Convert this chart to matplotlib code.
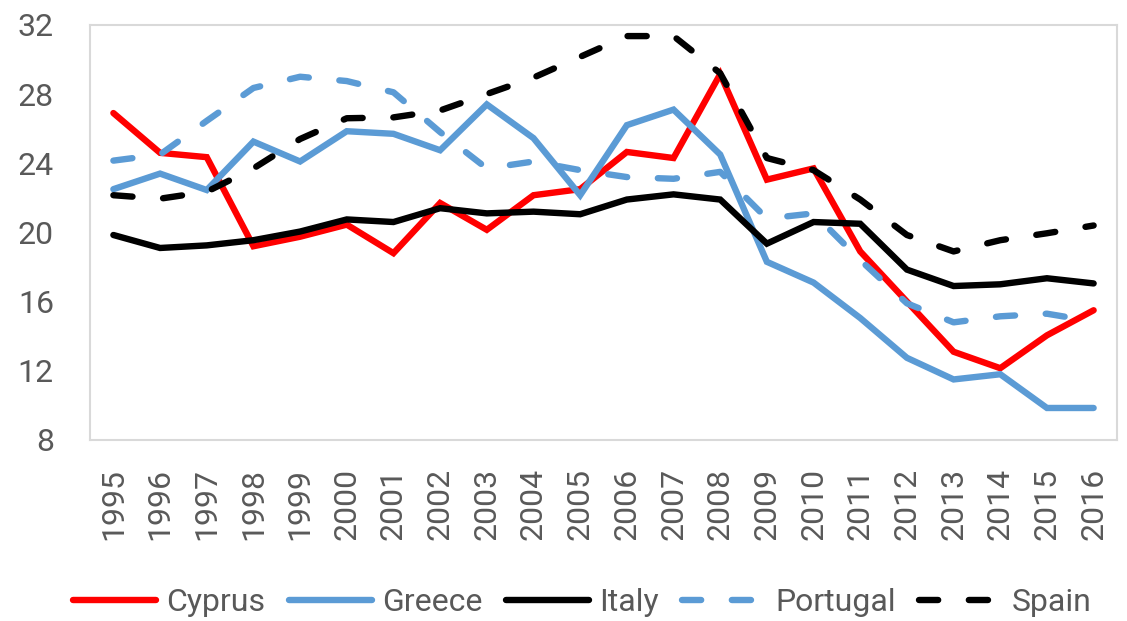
import matplotlib
matplotlib.use("Agg")
import matplotlib.pyplot as plt

years = [str(y) for y in range(1995, 2017)]
cyprus = [26.9, 24.6, 24.35, 19.2, 19.75, 20.45, 18.8, 21.7, 20.15, 22.15, 22.5, 24.65,
          24.3, 29.15, 23.05, 23.7, 18.9, 16.0, 13.1, 12.15, 14.05, 15.5]
greece = [22.5, 23.4, 22.45, 25.25, 24.1, 25.85, 25.7, 24.75, 27.4, 25.45, 22.15, 26.2,
          27.1, 24.5, 18.3, 17.1, 15.05, 12.75, 11.5, 11.8, 9.85, 9.85]
italy = [19.85, 19.1, 19.25, 19.55, 20.05, 20.75, 20.6, 21.4, 21.1, 21.2, 21.05, 21.9,
         22.2, 21.9, 19.35, 20.6, 20.5, 17.85, 16.9, 17.0, 17.35, 17.05]
portugal = [24.15, 24.5, 26.45, 28.35, 29.0, 28.75, 28.1, 25.8, 23.7, 24.1, 23.6, 23.2,
            23.1, 23.5, 20.8, 21.1, 18.4, 15.9, 14.8, 15.15, 15.3, 14.85]
spain = [22.15, 21.95, 22.35, 23.7, 25.4, 26.6, 26.65, 27.05, 28.0, 28.95, 30.15, 31.35,
         31.35, 29.2, 24.3, 23.6, 21.9, 19.85, 18.9, 19.55, 19.95, 20.4]
yticks = [8, 12, 16, 20, 24, 28, 32]

plt.rcParams['font.family'] = ['Roboto', 'DejaVu Sans']

fig = plt.figure(figsize=(11.27, 6.21), dpi=100)
ax = fig.add_axes([0.0799, 0.2915, 0.9112, 0.6685])

x = list(range(len(years)))
lw = 4.6
blue = '#5b9bd5'
dash = (3.0, 4.8)
ax.plot(x, cyprus, color='#ff0000', lw=lw, label='Cyprus', solid_capstyle='round', solid_joinstyle='miter')
ax.plot(x, greece, color=blue, lw=lw, label='Greece', solid_capstyle='round', solid_joinstyle='miter')
ax.plot(x, italy, color='#000000', lw=lw, label='Italy', solid_capstyle='round', solid_joinstyle='miter')
ax.plot(x, portugal, color=blue, lw=lw, label='Portugal', dashes=dash, dash_capstyle='round')
ax.plot(x, spain, color='#000000', lw=lw, label='Spain', dashes=dash, dash_capstyle='round')

ax.set_xlim(-0.5, len(years) - 0.5)
ax.set_ylim(8, 32)
ax.set_yticks(yticks)
ax.set_yticklabels([str(v) for v in yticks])
ax.set_xticks(x)
ax.set_xticklabels(years, rotation=90)
ax.tick_params(axis='both', length=0, labelsize=23, colors='#595959')
ax.tick_params(axis='y', pad=26)
ax.tick_params(axis='x', pad=20)
for s in ax.spines.values():
    s.set_color('#d9d9d9')
    s.set_linewidth(1.5)

leg = fig.legend(loc='center', bbox_to_anchor=(0.517, 0.029), ncol=5, frameon=False,
                 fontsize=23, handlelength=2.6, handletextpad=0.3, columnspacing=0.75,
                 borderpad=0, borderaxespad=0)
for t in leg.get_texts():
    t.set_color('#595959')

fig.savefig('out.png', dpi=100)
